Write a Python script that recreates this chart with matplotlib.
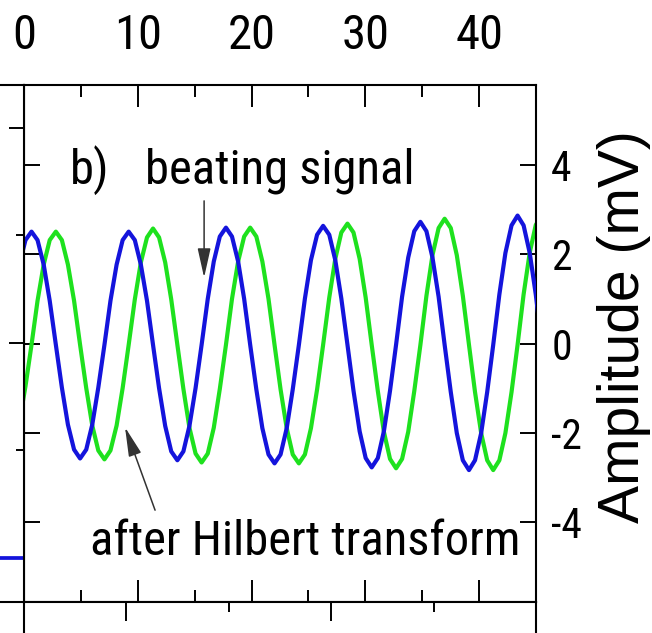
import numpy as np
import matplotlib
matplotlib.use('Agg')
import matplotlib.pyplot as plt
from matplotlib import font_manager
from matplotlib.ticker import MultipleLocator

# time axis (ms) of the sampled traces
t = [-0.41, 0.13, 0.66, 1.19, 1.73, 2.26, 2.80, 3.33, 3.86, 4.40,
     4.93, 5.47, 6.00, 6.53, 7.07, 7.60, 8.14, 8.67, 9.20, 9.74,
     10.27, 10.81, 11.34, 11.87, 12.41, 12.94, 13.48, 14.01, 14.54, 15.08,
     15.61, 16.15, 16.68, 17.21, 17.75, 18.28, 18.82, 19.35, 19.88, 20.42,
     20.95, 21.49, 22.02, 22.55, 23.09, 23.62, 24.16, 24.69, 25.22, 25.76,
     26.29, 26.83, 27.36, 27.89, 28.43, 28.96, 29.50, 30.03, 30.56, 31.10,
     31.63, 32.17, 32.70, 33.23, 33.77, 34.30, 34.84, 35.37, 35.90, 36.44,
     36.97, 37.51, 38.04, 38.57, 39.11, 39.64, 40.18, 40.71, 41.24, 41.78,
     42.31, 42.85, 43.38, 43.91, 44.45, 44.98, 45.52]

# beating signal (mV)
beating = [1.77, 2.32, 2.51, 2.32, 1.77, 0.96, -0.03, -0.99, -1.82, -2.38,
           -2.58, -2.38, -1.82, -0.99, -0.03, 0.96, 1.77, 2.32, 2.51, 2.32,
           1.77, 0.96, -0.03, -1.00, -1.85, -2.42, -2.62, -2.42, -1.85, -1.00,
           -0.03, 1.00, 1.84, 2.40, 2.60, 2.40, 1.84, 1.00, -0.03, -1.03,
           -1.90, -2.49, -2.69, -2.49, -1.90, -1.03, -0.03, 1.01, 1.87, 2.44,
           2.64, 2.44, 1.87, 1.01, -0.03, -1.06, -1.97, -2.57, -2.78, -2.57,
           -1.97, -1.06, -0.03, 1.05, 1.93, 2.52, 2.73, 2.52, 1.93, 1.05,
           -0.03, -1.09, -2.01, -2.62, -2.84, -2.62, -2.01, -1.09, -0.03, 1.10,
           2.03, 2.65, 2.87, 2.65, 2.03, 1.10, -0.03]

# same signal after Hilbert transform (mV)
hilbert = [-1.77, -0.96, -0.03, 0.96, 1.77, 2.32, 2.51, 2.32, 1.77, 0.96,
           -0.03, -1.00, -1.84, -2.40, -2.60, -2.40, -1.84, -1.00, -0.03, 0.99,
           1.82, 2.38, 2.58, 2.38, 1.82, 0.99, -0.03, -1.02, -1.89, -2.47,
           -2.67, -2.47, -1.89, -1.02, -0.03, 1.00, 1.84, 2.40, 2.60, 2.40,
           1.84, 1.00, -0.03, -1.03, -1.90, -2.49, -2.69, -2.49, -1.90, -1.03,
           -0.03, 1.03, 1.90, 2.49, 2.69, 2.49, 1.90, 1.03, -0.03, -1.07,
           -1.98, -2.59, -2.80, -2.59, -1.98, -1.07, -0.03, 1.07, 1.98, 2.59,
           2.80, 2.59, 1.98, 1.07, -0.03, -1.09, -2.01, -2.62, -2.84, -2.62,
           -2.01, -1.09, -0.03, 1.10, 2.04, 2.66, 2.88]

# bits of the neighbouring panels that show at the edges
panel_a_x = [0.0, 1.0]
panel_a_y = [-1.0, -1.0]

xticks_top = [0, 10, 20, 30, 40]
yticks = [-4, -2, 0, 2, 4]

names = {f.name for f in font_manager.fontManager.ttflist}
narrow = 'Liberation Sans'
for cand in ['Liberation Sans Narrow', 'Arial Narrow', 'Roboto Condensed',
             'Archivo Narrow', 'PT Sans Narrow']:
    if cand in names:
        narrow = cand
        break
plt.rcParams['font.family'] = [narrow, 'DejaVu Sans']
plt.rcParams['axes.linewidth'] = 1.5
plt.rcParams['axes.unicode_minus'] = False

fig = plt.figure(figsize=(6.52, 6.33), dpi=100)

L, B, W, H = 24/652, 1-602/633, 512/652, 517/633

# panel b
ax = fig.add_axes([L, B, W, H])
ax.plot(t, beating, color='#1414dc', lw=3.0, zorder=3, solid_joinstyle='round')
ax.plot(t, hilbert, color='#1ee11e', lw=3.0, zorder=2, solid_joinstyle='round')
ax.set_xlim(0, 45)
ax.set_ylim(-5.8, 5.8)

ax.xaxis.set_major_locator(MultipleLocator(10))
ax.xaxis.set_minor_locator(MultipleLocator(5))
ax.set_xticks(xticks_top)
ax.set_yticks(yticks)
ax.tick_params(axis='x', which='both', direction='in', top=True, bottom=True,
               labeltop=True, labelbottom=False, width=1.4)
ax.tick_params(axis='x', which='major', length=16, labelsize=35, pad=19)
ax.tick_params(axis='x', which='minor', length=8.5)
ax.tick_params(axis='y', which='major', direction='in', left=True, right=True,
               labelleft=False, labelright=True, length=11.5, width=1.4,
               labelsize=30, pad=11)

ax.yaxis.set_label_position('right')
ax.set_ylabel('Amplitude (mV)', fontsize=41, family=['Liberation Sans', 'DejaVu Sans'],
              rotation=90, va='center', ha='center')
ax.yaxis.set_label_coords(1.172, 0.532)

ax.text(4.05, 3.58, 'b)', fontsize=35, ha='left', va='baseline')
ax.text(10.64, 3.58, 'beating signal', fontsize=35, ha='left', va='baseline')
ax.text(5.8, -4.75, 'after Hilbert transform', fontsize=35, ha='left', va='baseline')

ax.annotate('', xy=(15.83, 1.48), xytext=(15.83, 3.2),
            arrowprops=dict(arrowstyle='-|>,head_length=0.9,head_width=0.2',
                            mutation_scale=20, color='#333333', lw=1.1,
                            shrinkA=0, shrinkB=0))
ax.annotate('', xy=(8.88, -1.88), xytext=(11.52, -3.74),
            arrowprops=dict(arrowstyle='-|>,head_length=0.9,head_width=0.2',
                            mutation_scale=20, color='#333333', lw=1.1,
                            shrinkA=0, shrinkB=0))

# panel a (only its right edge is in view)
ax_a = fig.add_axes([L-0.4, B, 0.4, H])
ax_a.plot(panel_a_x, panel_a_y, color='#1414dc', lw=2.7)
ax_a.set_xlim(0, 1)
ax_a.set_ylim(-1.205, 1.2)
ax_a.spines['left'].set_visible(False)
ax_a.yaxis.set_major_locator(MultipleLocator(1))
ax_a.yaxis.set_minor_locator(MultipleLocator(0.5))
ax_a.tick_params(axis='y', which='both', direction='in', left=False, right=True,
                 labelleft=False, labelright=False, width=1.4)
ax_a.tick_params(axis='y', which='major', length=11)
ax_a.tick_params(axis='y', which='minor', length=5.5)
ax_a.tick_params(axis='x', which='both', bottom=False, top=False,
                 labelbottom=False)

# panel c (only its top edge is in view)
ax_c = fig.add_axes([L, B-0.4, W, 0.4])
ax_c.set_xlim(5, 30)
ax_c.set_ylim(0, 1)
ax_c.xaxis.set_major_locator(MultipleLocator(10))
ax_c.xaxis.set_minor_locator(MultipleLocator(5))
ax_c.tick_params(axis='x', which='both', direction='in', top=True, bottom=False,
                 labeltop=False, labelbottom=False, width=1.4)
ax_c.tick_params(axis='x', which='major', length=14)
ax_c.tick_params(axis='x', which='minor', length=7)
ax_c.set_yticks([])

fig.savefig('out.png', dpi=100)
